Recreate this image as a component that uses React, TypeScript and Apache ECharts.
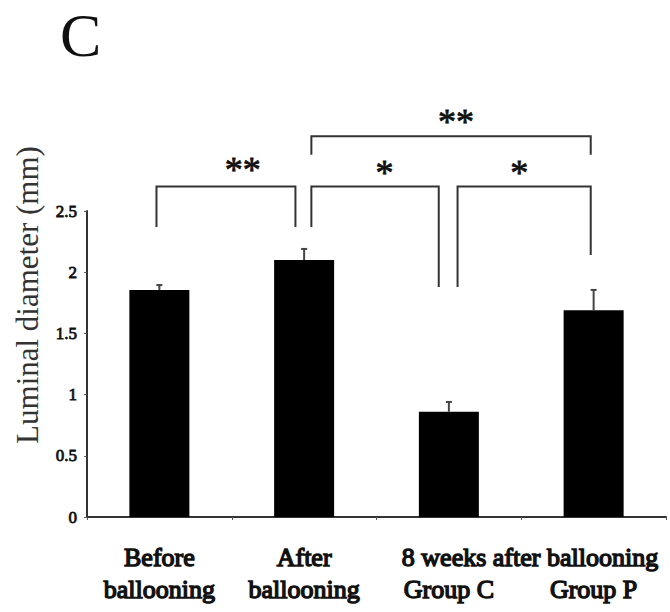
import React, { useEffect, useRef } from "react";
import * as echarts from "echarts";

const categories = [
  "Before ballooning",
  "After ballooning",
  "8 weeks after ballooning Group C",
  "8 weeks after ballooning Group P",
];
const labelLine1 = ["Before", "After", "", ""];
const labelLine2 = ["ballooning", "ballooning", "Group C", "Group P"];
const spanLabel = "8 weeks after ballooning";
const panelLetter = "C";
const yAxisTitle = "Luminal diameter (mm)";

const meanValues = [1.855, 2.1, 0.86, 1.69];
const errorValues = [0.04, 0.09, 0.08, 0.165];

// significance brackets (x in category units, y in mm)
const bracketStartX = [-0.02, 1.05, 2.06, 1.05];
const bracketEndX = [0.94, 1.93, 2.98, 2.98];
const bracketTopY = [2.7, 2.7, 2.7, 3.11];
const bracketLeftEndY = [2.37, 2.37, 1.88, 2.96];
const bracketRightEndY = [2.37, 1.88, 2.14, 2.96];

const sigLabels = ["**", "*", "*", "**"];
const sigX = [0.576, 1.555, 2.486, 2.05];
const sigY = [2.876, 2.85, 2.85, 3.268];

const SERIF = "'Liberation Serif', 'Times New Roman', serif";
const INK = "#111";

export default function App() {
  const ref = useRef<HTMLDivElement>(null);

  useEffect(() => {
    if (!ref.current) return;
    const chart = echarts.init(ref.current, null, { renderer: "svg" });

    const errData = meanValues.map((v, i) => [i, v, v + errorValues[i]]);
    const bracketData = bracketStartX.map((x, i) => [
      x,
      bracketTopY[i],
      bracketEndX[i],
      bracketLeftEndY[i],
      bracketRightEndY[i],
    ]);
    const sigData = sigX.map((x, i) => [x, sigY[i]]);

    const boldText = {
      fontFamily: SERIF,
      fontWeight: "normal",
      textBorderColor: INK,
      textBorderWidth: 1.4,
    };

    const option: any = {
      animation: false,
      backgroundColor: "#ffffff",
      grid: { left: 87, right: 4, top: 211, bottom: 95, containLabel: false },
      xAxis: [
        {
          type: "category",
          data: categories,
          axisLine: { show: true, onZero: false, lineStyle: { color: "#333", width: 2 } },
          axisTick: { show: true, length: 3, lineStyle: { color: "#555", width: 1 } },
          axisLabel: {
            interval: 0,
            margin: 24,
            color: INK,
            ...boldText,
            fontSize: 26,
            lineHeight: 32,
            formatter: (_v: string, i: number) =>
              (labelLine1[i] ? labelLine1[i] : "") + "\n" + labelLine2[i],
          },
        },
        {
          type: "value",
          min: -0.5,
          max: 3.5,
          show: false,
          axisLine: { onZero: false },
        },
      ],
      yAxis: {
        type: "value",
        min: 0,
        max: 2.5,
        interval: 0.5,
        axisLine: { show: true, onZero: false, lineStyle: { color: "#333", width: 2 } },
        axisTick: { show: true, length: 3, lineStyle: { color: "#555", width: 1 } },
        splitLine: { show: false },
        axisLabel: {
          margin: 10,
          color: INK,
          ...boldText,
          textBorderWidth: 0.8,
          fontSize: 17,
        },
      },
      graphic: [
        {
          type: "text",
          x: 60,
          y: 35,
          style: {
            text: panelLetter,
            fontFamily: SERIF,
            fontSize: 62,
            fill: INK,
            align: "left",
            verticalAlign: "middle",
          },
        },
        {
          type: "text",
          x: 27,
          y: 295,
          rotation: Math.PI / 2,
          style: {
            text: yAxisTitle,
            fontFamily: SERIF,
            fontSize: 31,
            fill: "#333",
            align: "center",
            verticalAlign: "middle",
          },
        },
        {
          type: "text",
          x: 530,
          y: 557,
          style: {
            text: spanLabel,
            fontFamily: SERIF,
            fontSize: 26,
            fill: INK,
            stroke: INK,
            lineWidth: 1.4,
            align: "center",
            verticalAlign: "middle",
          },
        },
      ],
      series: [
        {
          type: "bar",
          data: meanValues,
          barWidth: 60,
          itemStyle: { color: "#000" },
          xAxisIndex: 0,
          yAxisIndex: 0,
          z: 2,
        },
        {
          type: "custom",
          xAxisIndex: 1,
          yAxisIndex: 0,
          clip: false,
          z: 3,
          data: errData,
          renderItem: (_params: any, api: any) => {
            const x = api.value(0);
            const p0 = api.coord([x, api.value(1)]);
            const p1 = api.coord([x, api.value(2)]);
            const st = { stroke: "#444", lineWidth: 2 };
            return {
              type: "group",
              children: [
                { type: "line", shape: { x1: p0[0], y1: p0[1], x2: p1[0], y2: p1[1] }, style: st },
                { type: "line", shape: { x1: p1[0] - 3, y1: p1[1], x2: p1[0] + 3, y2: p1[1] }, style: st },
              ],
            };
          },
        },
        {
          type: "custom",
          xAxisIndex: 1,
          yAxisIndex: 0,
          clip: false,
          z: 3,
          data: bracketData,
          renderItem: (_params: any, api: any) => {
            const x1 = api.value(0);
            const top = api.value(1);
            const x2 = api.value(2);
            const l = api.value(3);
            const r = api.value(4);
            const pts = [
              api.coord([x1, l]),
              api.coord([x1, top]),
              api.coord([x2, top]),
              api.coord([x2, r]),
            ];
            return {
              type: "polyline",
              shape: { points: pts },
              style: { stroke: "#333", lineWidth: 2, fill: "none" },
            };
          },
        },
        {
          type: "custom",
          xAxisIndex: 1,
          yAxisIndex: 0,
          clip: false,
          z: 3,
          data: sigData,
          renderItem: (params: any, api: any) => {
            const p = api.coord([api.value(0), api.value(1)]);
            return {
              type: "text",
              x: p[0],
              y: p[1] + 5,
              style: {
                text: sigLabels[params.dataIndex],
                fontFamily: SERIF,
                fontSize: 36,
                fill: INK,
                stroke: INK,
                lineWidth: 0.8,
                align: "center",
                verticalAlign: "middle",
              },
            };
          },
        },
      ],
    };

    chart.setOption(option);
    return () => chart.dispose();
  }, []);

  return (
    <div
      ref={ref}
      style={{ position: "fixed", left: 0, top: 0, width: 670, height: 612, background: "#fff" }}
    />
  );
}
